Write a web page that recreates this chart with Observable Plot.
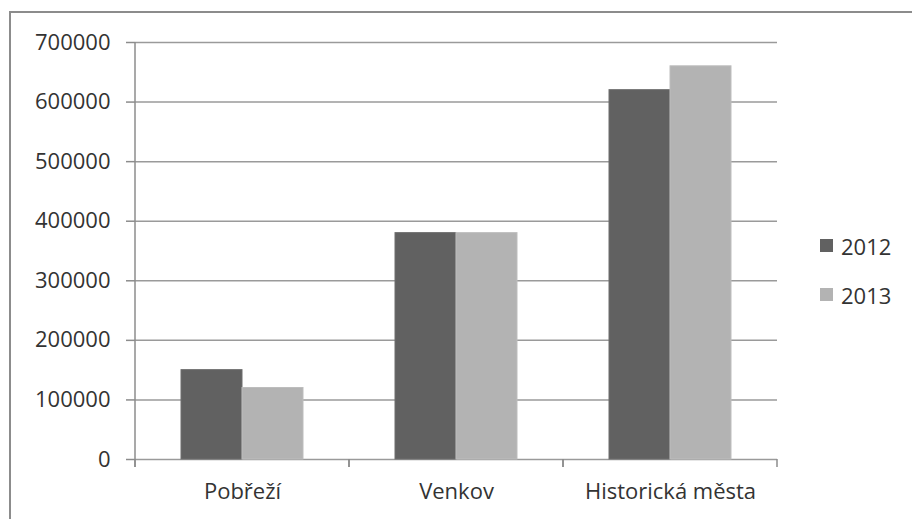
<!DOCTYPE html>
<html>
<head>
<meta charset="utf-8">
<script src="https://cdn.jsdelivr.net/npm/d3@7"></script>
<script src="https://cdn.jsdelivr.net/npm/@observablehq/plot@0.6"></script>
<style>
  body { margin: 0; background: #fff; font-family: "Open Sans", sans-serif; }
  #wrap { position: relative; width: 912px; height: 519px; overflow: hidden; }
  #border { position: absolute; left: 9px; top: 11px; width: 1000px; height: 1000px;
            border-top: 2px solid #8c8c8c; border-left: 2px solid #8c8c8c; box-sizing: border-box; }
  #legend { position: absolute; left: 820px; top: 221px; font-size: 22px; color: #333; }
  .item { display: flex; align-items: center; height: 49px; }
  .sw { width: 13px; height: 13px; margin-right: 8px; }
</style>
</head>
<body>
<div id="wrap"><div id="border"></div><div id="chart"></div>
<div id="legend"></div></div>
<script>
const categories = ["Pobřeží", "Venkov", "Historická města"];
const years = ["2012", "2013"];
const values2012 = [150000, 380000, 620000];
const values2013 = [120000, 380000, 660000];
const colors = ["#616161", "#b3b3b3"];
const yTicks = [0, 100000, 200000, 300000, 400000, 500000, 600000, 700000];

const data = [];
categories.forEach((c, i) => {
  data.push({category: c, year: years[0], value: values2012[i]});
  data.push({category: c, year: years[1], value: values2013[i]});
});

const axisLines = (onlyFirst) => Plot.ruleY(
  (onlyFirst ? [categories[0]] : categories).map(c => ({category: c})), {
  fx: "category",
  y: () => 0,
  render(index, scales, values, dimensions, context) {
    const g = d3.create("svg:g");
    if (index.length === 0) return g.node();
    const r = scales.x.range();
    const y0 = scales.y(0);
    const yTop = scales.y(700000);
    const x0 = Math.min(...r), x1 = Math.max(...r);
    if (onlyFirst) {
      g.append("line").attr("x1", x0).attr("x2", x0).attr("y1", yTop).attr("y2", y0 + 8)
        .attr("stroke", "#8c8c8c").attr("stroke-width", 1.5);
    } else {
      [x0, x1].forEach(x => g.append("line").attr("x1", x).attr("x2", x)
        .attr("y1", y0).attr("y2", y0 + 8).attr("stroke", "#8c8c8c").attr("stroke-width", 1.5));
    }
    return g.node();
  }
});

const chart = Plot.plot({
  width: 912,
  height: 519,
  marginLeft: 134,
  marginRight: 135,
  marginTop: 42,
  marginBottom: 60,
  style: {fontFamily: "Open Sans, sans-serif", fontSize: "22px", color: "#333", background: "transparent"},
  fx: {domain: categories, padding: 0, label: null},
  x: {domain: years, paddingOuter: 0.74, paddingInner: 0, axis: null},
  y: {domain: [0, 700000], label: null},
  color: {domain: years, range: colors},
  marks: [
    Plot.gridY(yTicks, {stroke: "#9a9a9a", strokeOpacity: 1, strokeWidth: 1.5}),
    Plot.barY(data, {fx: "category", x: "year", y: "value", fill: "year",
      stroke: d => d.year === years[0] ? "#6e6e6e" : "#bdbdbd", strokeWidth: 1}),
    axisLines(true),
    axisLines(false),
    Plot.axisY(yTicks, {anchor: "left", tickSize: 9, tickPadding: 16, stroke: "#8c8c8c",
      strokeWidth: 1.5, tickFormat: d => String(d), fontSize: 22, fill: "#333"}),
    Plot.axisFx({anchor: "bottom", tickSize: 0, tickPadding: 24, label: null, fontSize: 22, fill: "#333"})
  ]
});
document.getElementById("chart").appendChild(chart);

const legend = document.getElementById("legend");
years.forEach((y, i) => {
  const it = document.createElement("div");
  it.className = "item";
  it.innerHTML = `<div class="sw" style="background:${colors[i]}"></div><span>${y}</span>`;
  legend.appendChild(it);
});
</script>
</body>
</html>
